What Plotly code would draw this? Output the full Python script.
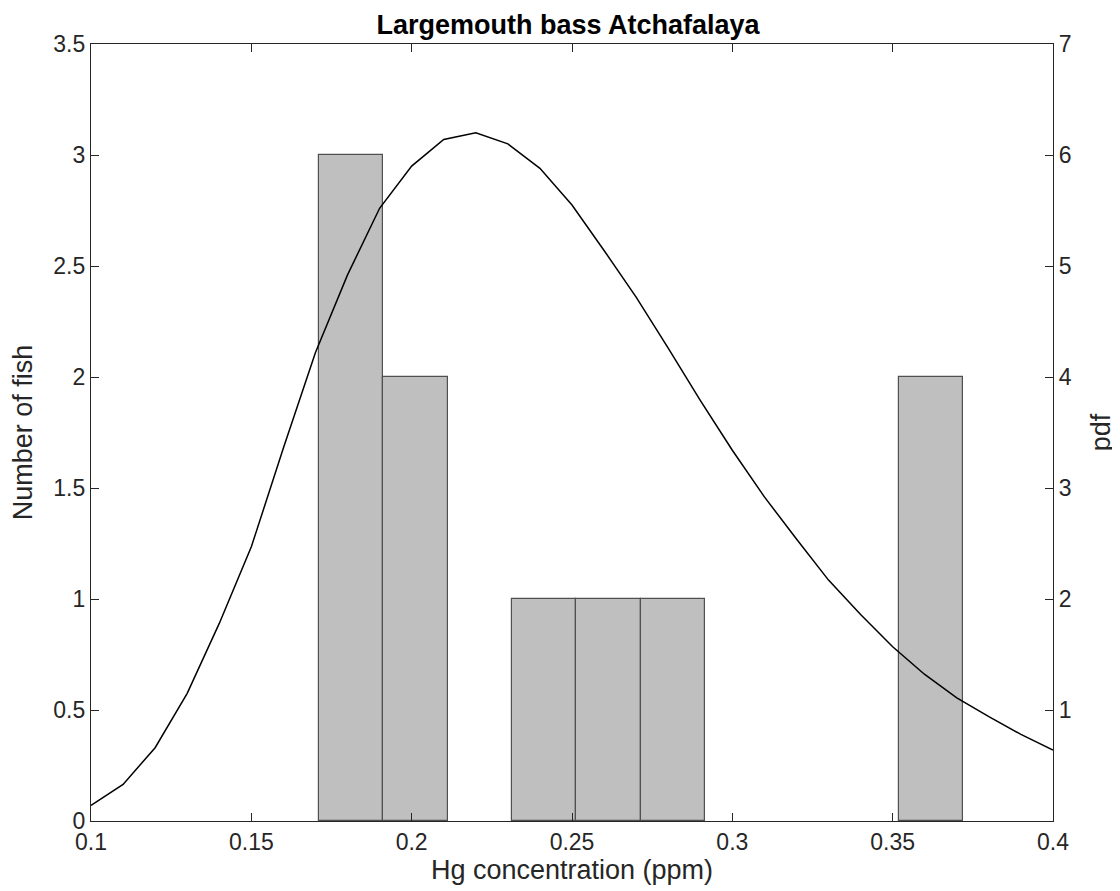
import plotly.graph_objects as go

# Histogram data (MATLAB hist, 10 bins)
bin_centers = [0.18105, 0.20115, 0.22125, 0.24135, 0.26145, 0.28155, 0.30165, 0.32175, 0.34185, 0.36195]
bin_width = 0.0201
counts = [3, 2, 0, 1, 1, 1, 0, 0, 0, 2]

# Fitted pdf curve (right axis)
pdf_x = [0.10, 0.11, 0.12, 0.13, 0.14, 0.15, 0.16, 0.17, 0.18, 0.19, 0.20,
         0.21, 0.22, 0.23, 0.24, 0.25, 0.26, 0.27, 0.28, 0.29, 0.30,
         0.31, 0.32, 0.33, 0.34, 0.35, 0.36, 0.37, 0.38, 0.39, 0.40]
pdf_y = [0.14, 0.33, 0.66, 1.15, 1.78, 2.47, 3.36, 4.22, 4.92, 5.52, 5.90,
         6.14, 6.20, 6.10, 5.88, 5.55, 5.14, 4.72, 4.26, 3.79, 3.34,
         2.92, 2.54, 2.17, 1.86, 1.57, 1.32, 1.11, 0.94, 0.78, 0.64]

x_ticks = [0.1, 0.15, 0.2, 0.25, 0.3, 0.35, 0.4]
x_ticklabels = ["0.1", "0.15", "0.2", "0.25", "0.3", "0.35", "0.4"]
y_ticks = [0, 0.5, 1, 1.5, 2, 2.5, 3, 3.5]
y_ticklabels = ["0", "0.5", "1", "1.5", "2", "2.5", "3", "3.5"]
y2_ticks = [1, 2, 3, 4, 5, 6, 7]

FONT = "Liberation Sans, Arial, sans-serif"
AX = "#262626"

fig = go.Figure()
fig.add_trace(go.Bar(
    x=bin_centers, y=counts, width=bin_width,
    marker=dict(color="#bfbfbf",
                line=dict(color="#505050", width=[1.2 if c > 0 else 0 for c in counts])),
    yaxis="y", showlegend=False,
))
fig.add_trace(go.Scatter(
    x=pdf_x, y=pdf_y, mode="lines",
    line=dict(color="black", width=1.5),
    yaxis="y2", showlegend=False,
))

axis_common = dict(
    showgrid=False, zeroline=False, showline=True, linecolor=AX, linewidth=1.2,
    ticks="inside", ticklen=8, tickcolor=AX, tickwidth=1.2,
    tickfont=dict(family=FONT, size=23, color=AX),
)

fig.update_layout(
    width=1120, height=891,
    margin=dict(l=80, r=75, t=36, b=78),
    paper_bgcolor="white", plot_bgcolor="white",
    font=dict(family=FONT, color=AX),
    bargap=0,
    title=dict(text="<b>Largemouth bass Atchafalaya</b>", x=0.5, xanchor="center",
               y=1 - 17 / 891, yanchor="middle", yref="container",
               font=dict(family=FONT, size=27, color="black")),
    xaxis=dict(range=[0.1, 0.4], tickvals=x_ticks, ticktext=x_ticklabels,
               mirror="ticks",
               title=dict(text="Hg concentration (ppm)", standoff=2,
                          font=dict(family=FONT, size=27, color=AX)),
               **axis_common),
    yaxis=dict(range=[0, 3.5], tickvals=y_ticks, ticktext=y_ticklabels,
               title=dict(text="Number of fish", standoff=14,
                          font=dict(family=FONT, size=27, color=AX)),
               **axis_common),
    yaxis2=dict(range=[0, 7], tickvals=y2_ticks, overlaying="y", side="right",
                title=dict(text="pdf", standoff=20,
                           font=dict(family=FONT, size=27, color=AX)),
                **axis_common),
)

fig.write_html("out.html")
